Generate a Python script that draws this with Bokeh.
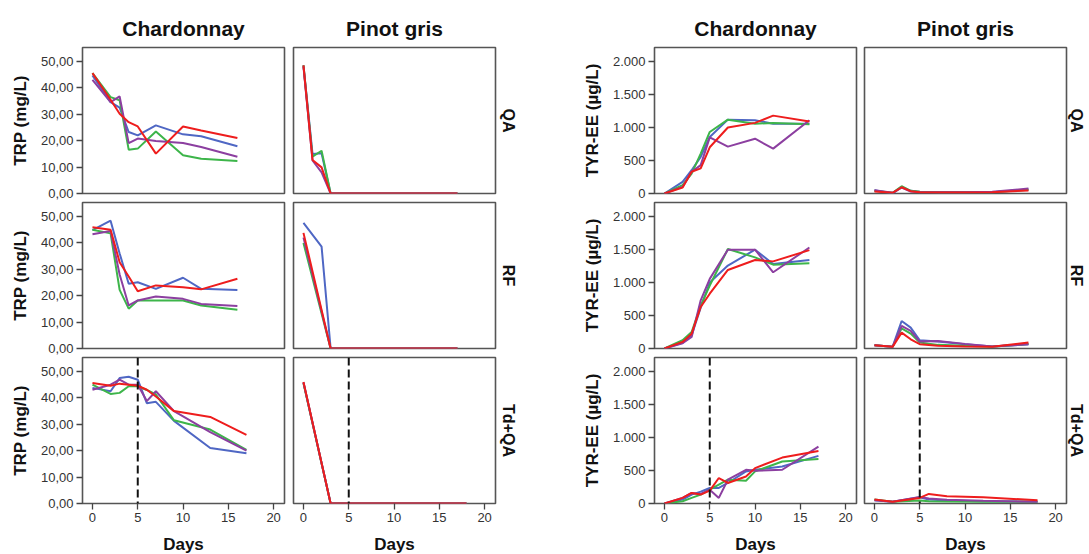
from bokeh.plotting import figure
from bokeh.layouts import row, column
from bokeh.models import Range1d, Title, Span, FixedTicker
from bokeh.embed import file_html
from bokeh.resources import INLINE

# ---------------- data ----------------
colors = {"blue": "#4f67c4", "green": "#3db54a", "purple": "#8c3fa0", "red": "#ee1d1d"}
series_order = ["blue", "green", "purple", "red"]

wines = ["Chardonnay", "Pinot gris"]
treatments = ["QA", "RF", "Td+QA"]

x_ticks = [0, 5, 10, 15, 20]
trp_ticks = [0, 10, 20, 30, 40, 50]
trp_tick_labels = ["0,00", "10,00", "20,00", "30,00", "40,00", "50,00"]
tyr_ticks = [0, 500, 1000, 1500, 2000]
tyr_tick_labels = ["0", "500", "1.000", "1.500", "2.000"]

# TRP (mg/L) - Chardonnay
days_trp_ch_qa = [0, 2, 3, 4, 5, 7, 10, 12, 16]
trp_ch_qa_blue = [44.7, 34.6, 32.5, 23.3, 22.0, 25.8, 22.4, 21.7, 17.9]
trp_ch_qa_green = [45.6, 36.5, 35.3, 16.6, 17.0, 23.5, 14.5, 13.2, 12.3]
trp_ch_qa_purple = [43.0, 34.6, 36.8, 19.1, 20.8, 19.9, 19.1, 17.6, 13.9]
trp_ch_qa_red = [45.6, 35.5, 30.2, 27.0, 25.4, 15.1, 25.4, 23.9, 21.0]

days_trp_ch_rf = [0, 2, 3, 4, 5, 7, 10, 12, 16]
trp_ch_rf_blue = [44.8, 48.4, 36.0, 24.5, 25.1, 22.6, 26.8, 22.6, 22.2]
trp_ch_rf_green = [45.0, 43.6, 22.2, 15.1, 18.2, 18.2, 18.2, 16.3, 14.7]
trp_ch_rf_purple = [43.3, 44.5, 28.0, 16.3, 18.2, 19.7, 18.8, 16.9, 16.1]
trp_ch_rf_red = [45.9, 45.0, 32.7, 27.3, 21.7, 23.9, 23.2, 22.4, 26.4]

days_trp_ch_tdqa = [0, 2, 3, 4, 5, 6, 7, 9, 13, 17]
trp_ch_tdqa_blue = [43.8, 42.5, 47.5, 48.0, 46.9, 38.0, 38.5, 31.3, 21.0, 19.0]
trp_ch_tdqa_green = [45.0, 41.5, 41.9, 44.4, 44.4, 43.0, 41.3, 31.5, 28.0, 20.3]
trp_ch_tdqa_purple = [43.1, 45.0, 46.9, 45.0, 45.0, 38.8, 42.5, 35.0, 27.0, 20.0]
trp_ch_tdqa_red = [45.6, 44.6, 45.4, 45.0, 44.6, 43.1, 40.5, 35.0, 32.8, 26.0]

# TRP (mg/L) - Pinot gris
days_trp_pg_qa = [0, 1, 2, 3, 5, 7, 10, 13, 17]
trp_pg_qa_blue = [48.5, 15.0, 15.2, 0, 0, 0, 0, 0, 0]
trp_pg_qa_green = [48.5, 14.0, 16.2, 0, 0, 0, 0, 0, 0]
trp_pg_qa_purple = [48.0, 12.5, 8.0, 0, 0, 0, 0, 0, 0]
trp_pg_qa_red = [48.5, 12.7, 9.9, 0, 0, 0, 0, 0, 0]

days_trp_pg_rf = [0, 2, 3, 5, 7, 10, 13, 17]
trp_pg_rf_blue = [47.6, 38.6, 0, 0, 0, 0, 0, 0]
trp_pg_rf_green = [40.0, 13.3, 0, 0, 0, 0, 0, 0]
trp_pg_rf_purple = [42.0, 14.0, 0, 0, 0, 0, 0, 0]
trp_pg_rf_red = [43.8, 14.6, 0, 0, 0, 0, 0, 0]

days_trp_pg_tdqa = [0, 3, 5, 7, 10, 13, 18]
trp_pg_tdqa_blue = [45.8, 0, 0, 0, 0, 0, 0]
trp_pg_tdqa_green = [45.5, 0, 0, 0, 0, 0, 0]
trp_pg_tdqa_purple = [45.8, 0, 0, 0, 0, 0, 0]
trp_pg_tdqa_red = [46.0, 0, 0, 0, 0, 0, 0]

# TYR-EE (ug/L) - Chardonnay
days_tyr_ch_qa = [0, 2, 3, 4, 5, 7, 10, 12, 16]
tyr_ch_qa_blue = [0, 176, 353, 554, 857, 1119, 1109, 1058, 1058]
tyr_ch_qa_green = [0, 126, 302, 605, 932, 1119, 1058, 1068, 1048]
tyr_ch_qa_purple = [0, 100, 330, 430, 850, 710, 830, 680, 1110]
tyr_ch_qa_red = [0, 91, 330, 380, 700, 1000, 1070, 1180, 1090]

days_tyr_ch_rf = [0, 2, 3, 4, 5, 7, 10, 12, 16]
tyr_ch_rf_blue = [0, 85, 200, 620, 1000, 1256, 1497, 1280, 1340]
tyr_ch_rf_green = [0, 125, 250, 650, 955, 1507, 1380, 1270, 1290]
tyr_ch_rf_purple = [0, 80, 175, 730, 1055, 1497, 1497, 1155, 1530]
tyr_ch_rf_red = [0, 100, 225, 628, 830, 1190, 1340, 1320, 1490]

days_tyr_ch_tdqa = [0, 2, 3, 4, 5, 6, 7, 9, 10, 13, 17]
tyr_ch_tdqa_blue = [0, 60, 135, 180, 235, 235, 311, 486, 511, 561, 721]
tyr_ch_tdqa_green = [0, 35, 85, 135, 210, 285, 360, 345, 486, 636, 676]
tyr_ch_tdqa_purple = [0, 85, 160, 145, 210, 85, 360, 511, 496, 511, 862]
tyr_ch_tdqa_red = [0, 85, 160, 135, 195, 386, 311, 410, 536, 696, 797]

# TYR-EE (ug/L) - Pinot gris
days_tyr_pg_qa = [0, 2, 3, 4, 5, 7, 10, 13, 17]
tyr_pg_qa_blue = [50, 0, 100, 40, 25, 20, 20, 20, 60]
tyr_pg_qa_green = [40, 10, 110, 40, 25, 20, 20, 20, 55]
tyr_pg_qa_purple = [50, 10, 90, 30, 20, 20, 20, 25, 75]
tyr_pg_qa_red = [30, 10, 95, 35, 20, 15, 15, 20, 45]

days_tyr_pg_rf = [0, 2, 3, 4, 5, 7, 10, 13, 17]
tyr_pg_rf_blue = [50, 25, 417, 316, 125, 105, 65, 30, 65]
tyr_pg_rf_green = [50, 25, 306, 226, 90, 55, 40, 25, 70]
tyr_pg_rf_purple = [50, 25, 341, 266, 105, 115, 70, 30, 65]
tyr_pg_rf_red = [50, 25, 241, 140, 65, 40, 30, 25, 90]

days_tyr_pg_tdqa = [0, 2, 5, 6, 8, 12, 18]
tyr_pg_tdqa_blue = [50, 25, 95, 60, 45, 35, 25]
tyr_pg_tdqa_green = [60, 25, 45, 35, 30, 25, 25]
tyr_pg_tdqa_purple = [50, 25, 100, 75, 55, 40, 25]
tyr_pg_tdqa_red = [60, 25, 85, 145, 110, 95, 50]

panels = {
    ("trp", "ch", 0): (days_trp_ch_qa, [trp_ch_qa_blue, trp_ch_qa_green, trp_ch_qa_purple, trp_ch_qa_red]),
    ("trp", "ch", 1): (days_trp_ch_rf, [trp_ch_rf_blue, trp_ch_rf_green, trp_ch_rf_purple, trp_ch_rf_red]),
    ("trp", "ch", 2): (days_trp_ch_tdqa, [trp_ch_tdqa_blue, trp_ch_tdqa_green, trp_ch_tdqa_purple, trp_ch_tdqa_red]),
    ("trp", "pg", 0): (days_trp_pg_qa, [trp_pg_qa_blue, trp_pg_qa_green, trp_pg_qa_purple, trp_pg_qa_red]),
    ("trp", "pg", 1): (days_trp_pg_rf, [trp_pg_rf_blue, trp_pg_rf_green, trp_pg_rf_purple, trp_pg_rf_red]),
    ("trp", "pg", 2): (days_trp_pg_tdqa, [trp_pg_tdqa_blue, trp_pg_tdqa_green, trp_pg_tdqa_purple, trp_pg_tdqa_red]),
    ("tyr", "ch", 0): (days_tyr_ch_qa, [tyr_ch_qa_blue, tyr_ch_qa_green, tyr_ch_qa_purple, tyr_ch_qa_red]),
    ("tyr", "ch", 1): (days_tyr_ch_rf, [tyr_ch_rf_blue, tyr_ch_rf_green, tyr_ch_rf_purple, tyr_ch_rf_red]),
    ("tyr", "ch", 2): (days_tyr_ch_tdqa, [tyr_ch_tdqa_blue, tyr_ch_tdqa_green, tyr_ch_tdqa_purple, tyr_ch_tdqa_red]),
    ("tyr", "pg", 0): (days_tyr_pg_qa, [tyr_pg_qa_blue, tyr_pg_qa_green, tyr_pg_qa_purple, tyr_pg_qa_red]),
    ("tyr", "pg", 1): (days_tyr_pg_rf, [tyr_pg_rf_blue, tyr_pg_rf_green, tyr_pg_rf_purple, tyr_pg_rf_red]),
    ("tyr", "pg", 2): (days_tyr_pg_tdqa, [tyr_pg_tdqa_blue, tyr_pg_tdqa_green, tyr_pg_tdqa_purple, tyr_pg_tdqa_red]),
}

# ---------------- layout ----------------
FONT = "Liberation Sans"
FW, FH = 202, 146
col_specs = [  # (measure, wine, left border, right border, title offset, row-label standoff)
    ("trp", "ch", 82, 4, 0, 0),
    ("trp", "pg", 5, 65, -8, 8),
    ("tyr", "ch", 94, 2, 9, 0),
    ("tyr", "pg", 6, 23, 0, 3),
]
row_top = [47, 1, 1]
row_bottom = [8, 8, 51]

def make_panel(ci, ri):
    meas, wine, bl, br, toff, rso = col_specs[ci]
    days, vals = panels[(meas, wine, ri)]
    ymax = 55.3 if meas == "trp" else 2212
    has_y = wine == "ch"
    has_x = ri == 2
    p = figure(frame_width=FW, frame_height=FH,
               x_range=Range1d(-1.1, 21.2), y_range=Range1d(0, ymax),
               output_backend="svg", toolbar_location=None,
               min_border_left=bl, min_border_right=br,
               min_border_top=row_top[ri], min_border_bottom=row_bottom[ri],
               x_axis_location="below" if has_x else None,
               y_axis_location="left" if has_y else None,
               title=None)
    p.xgrid.visible = False
    p.ygrid.visible = False
    p.outline_line_color = "#555555"
    p.outline_line_width = 1.6
    p.outline_line_alpha = 1.0
    p.background_fill_color = "white"
    p.border_fill_color = "white"

    if ri == 0:
        t = Title(text="Chardonnay" if wine == "ch" else "Pinot gris", align="center",
                  text_font=FONT, text_font_size="21px", text_font_style="bold",
                  text_color="#111111", standoff=16, offset=toff)
        p.add_layout(t, "above")
    if wine == "pg":
        rt = Title(text=treatments[ri], align="center", text_font=FONT,
                   text_font_size="16px", text_font_style="bold",
                   text_color="#111111", standoff=rso)
        p.add_layout(rt, "right")

    axes = []
    if has_y:
        ya = p.yaxis[0]
        if meas == "trp":
            ya.ticker = FixedTicker(ticks=trp_ticks)
            ya.major_label_overrides = dict(zip(trp_ticks, trp_tick_labels))
            ya.axis_label = "TRP (mg/L)"
        else:
            ya.ticker = FixedTicker(ticks=tyr_ticks)
            ya.major_label_overrides = dict(zip(tyr_ticks, tyr_tick_labels))
            ya.axis_label = "TYR-EE (\u00b5g/L)"
        ya.axis_label_standoff = 8
        axes.append(ya)
    if has_x:
        xa = p.xaxis[0]
        xa.ticker = FixedTicker(ticks=x_ticks)
        xa.axis_label = "Days"
        xa.axis_label_standoff = 10
        axes.append(xa)
    for a in axes:
        a.axis_line_color = None
        a.major_tick_line_color = "#444444"
        a.major_tick_line_width = 1.3
        a.major_tick_out = 6
        a.major_tick_in = 0
        a.minor_tick_line_color = None
        a.major_label_text_font = FONT
        a.major_label_text_font_size = "13px"
        a.major_label_text_color = "#333333"
        a.major_label_standoff = 3
        a.axis_label_text_font = FONT
        a.axis_label_text_font_size = "17px"
        a.axis_label_text_font_style = "bold"
        a.axis_label_text_color = "#111111"

    for name, v in zip(series_order, vals):
        p.line(days, v, line_color=colors[name], line_width=2)

    if ri == 2:
        p.add_layout(Span(location=5, dimension="height", line_color="#111111",
                          line_dash="8 4", line_width=2))
    return p

rows = []
for ri in range(3):
    rows.append(row(*[make_panel(ci, ri) for ci in range(4)]))
layout = column(*rows)

open("out.html", "w").write(file_html(layout, INLINE, "TRP and TYR-EE"))
